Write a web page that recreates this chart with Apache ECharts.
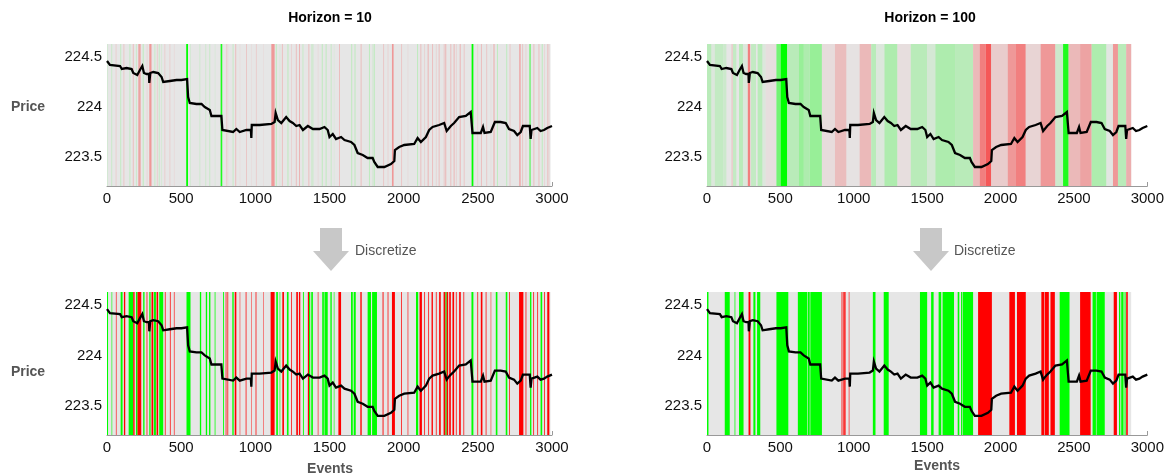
<!DOCTYPE html>
<html><head><meta charset="utf-8">
<script src="https://cdn.jsdelivr.net/npm/echarts@6/dist/echarts.min.js"></script>
<style>html,body{margin:0;padding:0;background:#fff}#c{width:1167px;height:475px}</style>
</head><body><div id="c"></div>
<script>
// ---------------- DATA ----------------
const titles = ['Horizon = 10', 'Horizon = 100'];
const xTicks = [0, 500, 1000, 1500, 2000, 2500, 3000];
const yTicks = [223.5, 224, 224.5];
const labelledEnd = { h10: 2990, h100: 2890 };

// mid price path [event, price]
const price = [
 [0,224.46],[20,224.42],[88,224.41],[100,224.38],[132,224.39],[166,224.38],[177,224.34],[204,224.32],
 [222,224.37],[238,224.41],[249,224.34],[267,224.33],[283,224.33],[285,224.24],[290,224.24],[292,224.34],[312,224.35],[323,224.36],
 [345,224.34],[368,224.30],[379,224.25],[424,224.26],[469,224.27],[502,224.27],[540,224.28],[547,224.10],
 [558,224.04],[603,224.03],[637,224.03],[659,224.00],[693,223.97],[704,223.91],[771,223.91],[778,223.77],
 [850,223.75],[872,223.78],[895,223.75],[940,223.77],[970,223.77],[973,223.69],[976,223.82],[1029,223.82],[1108,223.83],
 [1130,223.85],[1137,223.94],[1152,223.87],[1175,223.84],[1208,223.90],[1231,223.86],[1253,223.84],[1276,223.81],[1298,223.82],
 [1321,223.77],[1354,223.81],[1388,223.78],[1433,223.78],[1466,223.80],[1488,223.77],[1500,223.70],[1522,223.73],
 [1544,223.68],[1578,223.70],[1601,223.67],[1645,223.65],[1668,223.62],[1690,223.54],[1724,223.52],[1757,223.49],
 [1791,223.49],[1802,223.45],[1825,223.40],[1870,223.40],[1914,223.43],[1937,223.46],[1941,223.57],[1970,223.60],
 [2004,223.62],[2071,223.63],[2094,223.69],[2116,223.65],[2150,223.70],[2172,223.77],[2195,223.80],[2239,223.82],
 [2273,223.84],[2290,223.76],[2300,223.78],[2318,223.81],[2340,223.84],[2352,223.85],[2374,223.90],[2419,223.91],[2452,223.95],
 [2460,223.95],[2464,223.74],[2520,223.74],[2535,223.80],[2545,223.74],[2587,223.75],[2615,223.85],[2654,223.85],[2688,223.84],
 [2710,223.78],[2744,223.76],[2766,223.72],[2789,223.75],[2804,223.81],[2850,223.81],[2856,223.68],[2862,223.77],
 [2901,223.79],[2923,223.76],[2946,223.77],[2968,223.79],[3000,223.81]
];

// Horizon 10, predicted probabilities [start, end, up(+)/down(-) strength]
const h10Prob = [
 [0,7,0.15],[28,35,0.2],[58,64,-0.2],[89,96,0.25],[111,117,-0.25],[151,158,0.25],[174,180,-0.3],[195,202,0.2],[211,227,-0.4],[241,247,0.3],
 [268,272,-0.2],[285,300,-0.45],[320,326,0.25],[336,342,-0.2],[349,355,0.25],[365,371,0.15],[387,393,-0.2],[421,427,-0.2],[451,455,-0.15],
 [534,546,1.0],[560,566,0.15],[623,629,0.2],[663,669,0.2],
 [690,696,0.25],[726,731,0.15],[766,777,0.9],[802,808,-0.2],[812,817,-0.15],[847,853,0.25],[865,871,-0.3],[895,898,-0.15],[937,943,-0.25],[973,976,-0.15],[1004,1010,-0.2],
 [1052,1055,-0.15],[1108,1130,-0.45],[1138,1144,0.3],[1164,1168,0.15],[1179,1185,-0.3],[1217,1223,0.3],[1242,1247,-0.2],[1273,1279,-0.3],[1295,1301,-0.35],[1318,1324,0.25],
 [1358,1364,-0.3],[1377,1382,0.2],[1385,1391,0.25],[1421,1425,-0.15],[1448,1454,0.3],[1474,1480,0.3],[1508,1514,0.25],[1529,1533,0.15],[1564,1570,-0.3],[1647,1653,0.3],
 [1669,1675,0.3],[1710,1716,-0.3],[1766,1772,0.3],[1790,1796,0.2],[1799,1805,0.3],[1862,1868,-0.25],[1892,1897,-0.2],[1921,1932,-0.45],[1983,1989,-0.25],[2027,2031,-0.15],
 [2091,2097,0.3],[2113,2119,-0.3],[2139,2144,-0.2],[2162,2168,-0.35],[2192,2198,-0.3],[2217,2222,-0.2],[2236,2242,-0.3],[2270,2276,-0.25],[2281,2287,-0.35],[2315,2321,-0.3],
 [2337,2343,-0.35],[2352,2357,-0.2],[2378,2384,-0.35],[2405,2411,-0.25],[2458,2470,1.0],[2497,2502,-0.2],[2521,2527,-0.3],[2557,2563,-0.25],[2587,2590,-0.15],[2606,2612,-0.4],
 [2629,2635,0.3],[2692,2698,0.3],[2714,2720,-0.25],[2780,2788,-0.45],[2800,2805,-0.3],[2822,2827,-0.2],[2848,2856,0.7],[2875,2881,-0.3],[2909,2915,-0.3],
 [2931,2937,0.3],[2948,2952,-0.2],[2969,2975,-0.3],[2978,2982,-0.2]
];

// Horizon 10, discretized labels [start, end, class] (1 = up, -1 = down)
const h10Label = [
 [0,7,1],[31,35,1],[60,64,-1],[92,105,1],[114,123,-1],[146,177,1],[177,186,-1],[195,206,1],[206,231,-1],[244,253,1],
 [267,272,-1],[285,294,1],[300,312,-1],[316,330,1],[334,345,-1],[352,379,1],[390,395,-1],[424,429,-1],[451,455,-1],
 [536,563,1],[626,635,1],[666,675,1],[688,697,1],[726,731,1],[783,789,1],[800,805,-1],[812,817,-1],[845,854,1],
 [861,872,-1],[895,898,-1],[935,940,-1],[973,976,-1],[1002,1007,-1],[1052,1055,-1],[1103,1130,-1],[1141,1152,1],
 [1164,1168,1],[1182,1193,-1],[1213,1224,1],[1242,1247,-1],[1276,1287,-1],[1294,1303,-1],[1321,1327,1],[1354,1362,-1],
 [1362,1370,1],[1377,1388,1],[1421,1425,-1],[1451,1462,1],[1466,1488,1],[1506,1515,1],[1529,1533,1],[1560,1578,-1],
 [1645,1657,1],[1663,1677,1],[1708,1717,-1],[1757,1780,1],[1787,1820,1],[1858,1864,-1],[1892,1897,-1],[1921,1941,-1],
 [1982,1987,-1],[2027,2031,-1],[2083,2098,1],[2107,2123,-1],[2139,2144,-1],[2166,2171,-1],[2188,2197,-1],[2217,2222,-1],
 [2239,2250,-1],[2269,2282,-1],[2282,2290,1],[2290,2300,-1],[2307,2318,-1],[2329,2340,-1],[2352,2357,-1],[2374,2385,-1],
 [2403,2408,-1],[2457,2470,1],[2497,2502,-1],[2520,2531,-1],[2553,2558,-1],[2587,2590,-1],[2621,2632,1],[2688,2699,1],
 [2710,2715,-1],[2778,2807,-1],[2822,2827,-1],[2852,2861,1],[2874,2879,-1],[2901,2906,-1],[2923,2934,1],[2946,2951,-1],
 [2968,2982,-1]
];

// Horizon 100, predicted probabilities
const h100Prob = [
 [0,31,0.3],[31,54,0.1],[54,110,0.25],[110,132,0.2],[166,177,-0.2],[177,200,0.25],[218,245,0.3],[245,278,0.1],
 [278,294,-0.55],[300,334,0.25],[345,379,0.3],[379,400,0.1],[400,470,-0.08],[473,502,0.6],[502,547,1.0],[547,626,0.3],
 [626,660,0.45],[660,700,0.35],[700,783,0.45],[783,872,-0.1],[872,951,-0.28],[951,1040,-0.05],[1040,1119,-0.3],
 [1119,1153,0.3],[1153,1209,0.1],[1209,1298,0.35],[1298,1388,-0.08],[1388,1500,0.3],[1500,1556,0.15],[1556,1690,0.35],
 [1690,1813,0.3],[1813,1858,-0.3],[1858,1900,-0.55],[1900,1937,-0.7],[1937,2049,-0.2],[2049,2105,-0.45],[2105,2172,-0.55],
 [2172,2273,-0.15],[2273,2374,-0.45],[2374,2426,0.2],[2426,2464,0.9],[2464,2542,-0.3],[2542,2621,-0.4],[2621,2722,0.35],
 [2722,2766,0.05],[2766,2800,-0.45],[2800,2856,0.3],[2856,2890,-0.35]
];

// Horizon 100, discretized labels
const h100Label = [
 [0,10,1],[121,155,1],[188,193,1],[218,249,1],[283,296,-1],[316,330,1],[341,363,1],[473,554,1],[619,682,1],[686,700,1],
 [704,783,1],[917,922,-1],[926,931,-1],[935,944,-1],[966,970,-1],[1130,1148,1],[1204,1238,1],[1451,1500,1],[1527,1544,1],
 [1578,1596,1],[1605,1683,1],[1708,1719,1],[1731,1740,1],[1744,1813,1],[1847,1941,-1],[2060,2098,-1],[2112,2172,-1],
 [2278,2296,-1],[2300,2329,-1],[2340,2370,-1],[2403,2470,1],[2542,2614,-1],[2627,2650,1],[2654,2710,1],[2771,2793,-1],
 [2807,2816,1],[2822,2838,1],[2845,2852,1],[2856,2867,-1]
];

// ---------------- RENDER ----------------
const FONT = '"Liberation Sans", Arial, Helvetica, sans-serif';
const Y_MIN = 223.21, Y_MAX = 224.63;
const GRAY = [230,230,230], GREEN = [0,255,0], RED = [255,0,0];
function mix(a, b, t) { return 'rgb(' + a.map((x, i) => Math.round(x + (b[i] - x) * t)).join(',') + ')'; }
function bandColor(v) {
  const t = Math.pow(Math.abs(v), 1.35);
  return v >= 0 ? mix(GRAY, GREEN, t) : mix(GRAY, RED, t);
}

function renderBand(params, api) {
  const s = api.value(0), e = api.value(1), v = api.value(2);
  const p0 = api.coord([s, Y_MAX]);
  const p1 = api.coord([e, Y_MIN]);
  return { type: 'rect', shape: { x: p0[0], y: p0[1], width: p1[0] - p0[0], height: p1[1] - p0[1] },
           style: { fill: bandColor(v) } };
}

const grids = [
  { left: 107, top: 44, width: 445, height: 142 },
  { left: 707, top: 44, width: 446, height: 142 },
  { left: 107, top: 292, width: 445, height: 143 },
  { left: 707, top: 292, width: 446, height: 143 }
];
const bandSets = [h10Prob, h100Prob, h10Label, h100Label];
const ends = [labelledEnd.h10, labelledEnd.h100, labelledEnd.h10, labelledEnd.h100];

const xAxis = grids.map((g, i) => ({
  type: 'value', gridIndex: i, min: xTicks[0], max: xTicks[xTicks.length - 1], interval: xTicks[1] - xTicks[0],
  axisLine: { show: true, lineStyle: { color: '#999', width: 1 } },
  axisTick: { show: true, inside: true, length: 4, lineStyle: { color: '#999' } },
  splitLine: { show: false },
  axisLabel: { color: '#111', fontSize: 15, margin: 5, fontFamily: FONT, formatter: v => String(v) }
}));
const yAxis = grids.map((g, i) => ({
  type: 'value', gridIndex: i, min: Y_MIN, max: Y_MAX,
  axisLine: { show: false }, axisTick: { show: false }, splitLine: { show: false },
  axisLabel: { color: '#111', fontSize: 15, margin: 5, fontFamily: FONT, customValues: yTicks, formatter: v => String(v) }
}));

const series = [];
grids.forEach((g, i) => {
  series.push({ type: 'custom', xAxisIndex: i, yAxisIndex: i, renderItem: renderBand, clip: true, silent: true,
    z: 1, data: [[0, ends[i], 0]] });
  series.push({ type: 'custom', xAxisIndex: i, yAxisIndex: i, renderItem: renderBand, clip: true, silent: true,
    z: 2, data: bandSets[i] });
  series.push({ type: 'line', xAxisIndex: i, yAxisIndex: i, data: price, showSymbol: false,
    symbol: 'none', silent: true, z: 5, lineStyle: { color: '#000', width: 2.3, join: 'miter' } });
});

function arrow(cx, top) {
  return { type: 'polygon', shape: { points: [
    [cx - 11, top], [cx + 11, top], [cx + 11, top + 23], [cx + 18, top + 23], [cx, top + 43],
    [cx - 18, top + 23], [cx - 11, top + 23]] }, style: { fill: '#c8c8c8' } };
}
function txt(x, y, text, opts) {
  return { type: 'text', x: x, y: y, style: Object.assign({ text: text, font: '14px ' + FONT, fill: '#555',
    textAlign: 'left', textVerticalAlign: 'middle' }, opts || {}) };
}

const option = {
  animation: false,
  backgroundColor: '#fff',
  grid: grids.map(g => Object.assign({ containLabel: false }, g)),
  xAxis: xAxis, yAxis: yAxis, series: series,
  graphic: [
    txt(330, 18, titles[0], { font: 'bold 14px ' + FONT, fill: '#000', textAlign: 'center' }),
    txt(930, 18, titles[1], { font: 'bold 14px ' + FONT, fill: '#000', textAlign: 'center' }),
    txt(28, 107, 'Price', { font: 'bold 14px ' + FONT, textAlign: 'center' }),
    txt(28, 372, 'Price', { font: 'bold 14px ' + FONT, textAlign: 'center' }),
    txt(330, 469, 'Events', { font: 'bold 14px ' + FONT, textAlign: 'center' }),
    txt(937, 466, 'Events', { font: 'bold 14px ' + FONT, textAlign: 'center' }),
    arrow(331, 228), arrow(931, 228),
    txt(355, 251, 'Discretize'), txt(954, 251, 'Discretize')
  ]
};
const chart = echarts.init(document.getElementById('c'), null, { renderer: 'canvas' });
chart.setOption(option);
</script></body></html>
